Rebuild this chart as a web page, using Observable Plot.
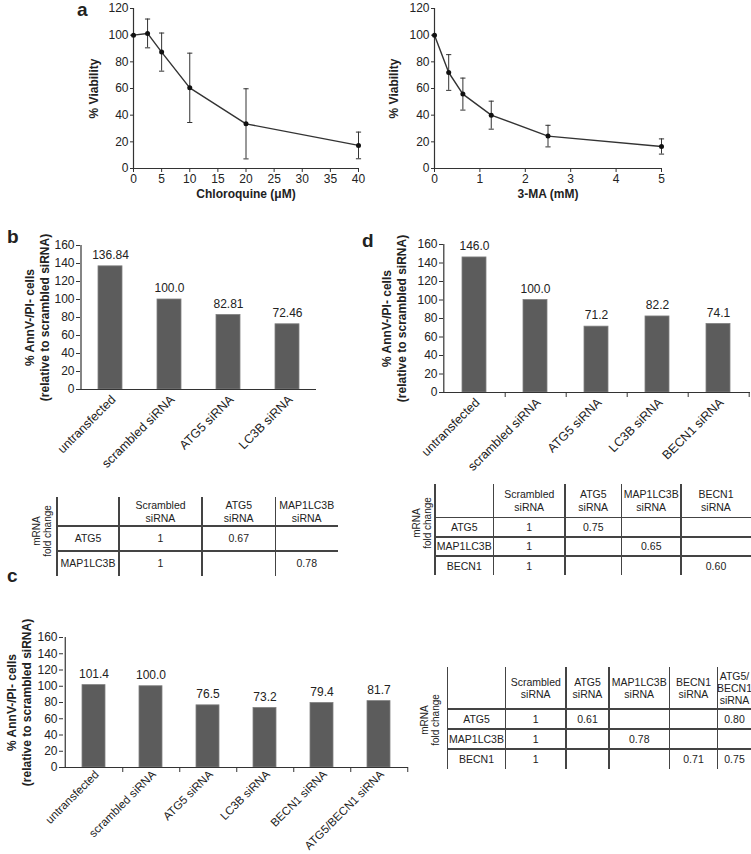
<!DOCTYPE html>
<html><head><meta charset="utf-8">
<script src="https://cdn.jsdelivr.net/npm/d3@7"></script>
<script src="https://cdn.jsdelivr.net/npm/@observablehq/plot@0.6"></script>
<style>
html,body{margin:0;padding:0;background:#fff;}
#fig{position:relative;width:751px;height:854px;overflow:hidden;font-family:"Liberation Sans",Arial,Helvetica,sans-serif;color:#222;}
.panel{position:absolute;}
.panel svg{overflow:visible;}
.letter{position:absolute;font-weight:bold;font-size:19px;line-height:1;}
.cell{position:absolute;display:flex;align-items:center;justify-content:center;text-align:center;white-space:pre;line-height:1.15;}
.vline{position:absolute;width:1.5px;background:#444;}
.hline{position:absolute;height:1.5px;background:#444;}
.rlab{position:absolute;white-space:pre;text-align:center;font-size:10px;line-height:11px;transform:translate(-50%,-50%) rotate(-90deg);}
</style>
</head><body>
<div id="fig"></div>
<script>
// ---- data: panel a ----
const cqDose = [0, 2.5, 5, 10, 20, 40];
const cqViability = [100, 101.3, 87.3, 60.5, 33.5, 17.3];
const cqSD = [0, 10.8, 14.3, 26, 26.3, 10];
const cqTicks = [0, 5, 10, 15, 20, 25, 30, 35, 40];

const maDose = [0, 0.3125, 0.625, 1.25, 2.5, 5];
const maViability = [100, 72, 55.8, 40, 24.3, 16.5];
const maSD = [0, 13.4, 12, 10.5, 8.1, 5.7];
const maTicks = [0, 1, 2, 3, 4, 5];

// ---- data: panel b ----
const bCategories = ["untransfected", "scrambled siRNA", "ATG5 siRNA", "LC3B siRNA"];
const bValues = [136.84, 100.0, 82.81, 72.46];
const bLabels = ["136.84", "100.0", "82.81", "72.46"];

// ---- data: panel d ----
const dCategories = ["untransfected", "scrambled siRNA", "ATG5 siRNA", "LC3B siRNA", "BECN1 siRNA"];
const dValues = [146.0, 100.0, 71.2, 82.2, 74.1];
const dLabels = ["146.0", "100.0", "71.2", "82.2", "74.1"];

// ---- data: panel c ----
const cCategories = ["untransfected", "scrambled siRNA", "ATG5 siRNA", "LC3B siRNA", "BECN1 siRNA", "ATG5/BECN1 siRNA"];
const cValues = [101.4, 100.0, 76.5, 73.2, 79.4, 81.7];
const cLabels = ["101.4", "100.0", "76.5", "73.2", "79.4", "81.7"];

// ---- tables ----
const tbHeaders = ["Scrambled\nsiRNA", "ATG5\nsiRNA", "MAP1LC3B\nsiRNA"];
const tbRows = ["ATG5", "MAP1LC3B"];
const tbValues = [["1", "0.67", ""], ["1", "", "0.78"]];

const tdHeaders = ["Scrambled\nsiRNA", "ATG5\nsiRNA", "MAP1LC3B\nsiRNA", "BECN1\nsiRNA"];
const tdRows = ["ATG5", "MAP1LC3B", "BECN1"];
const tdValues = [["1", "0.75", "", ""], ["1", "", "0.65", ""], ["1", "", "", "0.60"]];

const tcHeaders = ["Scrambled\nsiRNA", "ATG5\nsiRNA", "MAP1LC3B\nsiRNA", "BECN1\nsiRNA", "ATG5/\nBECN1\nsiRNA"];
const tcRows = ["ATG5", "MAP1LC3B", "BECN1"];
const tcValues = [["1", "0.61", "", "", "0.80"], ["1", "", "0.78", "", ""], ["1", "", "", "0.71", "0.75"]];

const yLabelA = "% Viability";
const yLabelBar = "% AnnV-/PI- cells\n(relative to scrambled siRNA)";
const mrnaLabel = "mRNA\nfold change";

// ---- helpers ----
const fig = d3.select("#fig");
const FONT = '"Liberation Sans", Arial, Helvetica, sans-serif';
const INK = "#333";
const baseStyle = {background: "transparent", fontFamily: FONT, fontSize: "12px", color: "#222", overflow: "visible"};

function place(node, left, top) {
  const div = fig.append("div").attr("class", "panel").style("left", left + "px").style("top", top + "px");
  div.node().appendChild(node);
}

const capSymbol = {draw(ctx, size) { const r = Math.sqrt(size / Math.PI); ctx.moveTo(-r, 0); ctx.lineTo(r, 0); }};

function doseChart({dose, viab, sd, ticks, xLabel, width, height, ml, mr, mt, mb, ylDx}) {
  const data = dose.map((d, i) => ({x: d, y: viab[i], lo: viab[i] - sd[i], hi: viab[i] + sd[i], sd: sd[i]}));
  const err = data.filter(d => d.sd > 0);
  return Plot.plot({
    width, height, marginLeft: ml, marginRight: mr, marginTop: mt, marginBottom: mb,
    style: baseStyle,
    x: {domain: [ticks[0], ticks[ticks.length - 1]]},
    y: {domain: [0, 120]},
    marks: [
      Plot.axisX({ticks, tickFormat: d => String(d), tickSize: 4, tickPadding: 2, label: null, stroke: INK}),
      Plot.axisY({ticks: d3.range(0, 121, 20), tickSize: 3, tickPadding: 2, label: null, stroke: INK}),
      Plot.ruleX([ticks[0]], {stroke: INK, strokeWidth: 1.2}),
      Plot.ruleY([0], {stroke: INK, strokeWidth: 1.2}),
      Plot.text([xLabel], {frameAnchor: "bottom", textAnchor: "middle", dy: 29, fontWeight: "bold", fontSize: 12}),
      Plot.text([yLabelA], {frameAnchor: "left", textAnchor: "middle", rotate: -90, dx: ylDx, fontWeight: "bold", fontSize: 12}),
      Plot.ruleX(err, {x: "x", y1: "lo", y2: "hi", stroke: INK, strokeWidth: 1}),
      Plot.dot(err, {x: "x", y: "lo", symbol: capSymbol, r: 2.6, stroke: INK, strokeWidth: 1}),
      Plot.dot(err, {x: "x", y: "hi", symbol: capSymbol, r: 2.6, stroke: INK, strokeWidth: 1}),
      Plot.line(data, {x: "x", y: "y", stroke: INK, strokeWidth: 1.4}),
      Plot.dot(data, {x: "x", y: "y", r: 2.5, fill: "#111"})
    ]
  });
}

function barChart({cats, vals, labels, width, height, ml, mr, mt, mb, boundaryTicks, ylDx, catFont = 12.5, catPad = 8}) {
  const data = cats.map((c, i) => ({c, v: vals[i], t: labels[i]}));
  const innerH = height - mt - mb;
  const step = (width - ml - mr) / cats.length;
  const tickUnits = 5 * 160 / innerH;
  return Plot.plot({
    width, height, marginLeft: ml, marginRight: mr, marginTop: mt, marginBottom: mb,
    style: baseStyle,
    x: {domain: cats, paddingInner: 0.6, paddingOuter: 0.3},
    y: {domain: [0, 160]},
    marks: [
      Plot.barY(data, {x: "c", y: "v", fill: "#5c5c5c", stroke: "#808080", strokeWidth: 0.8}),
      Plot.text(data, {x: "c", y: "v", text: "t", dy: -11, fontSize: 12}),
      Plot.ruleY([0], {stroke: INK, strokeWidth: 1.2}),
      Plot.ruleX([cats[0]], {x: d => d, y1: 0, y2: 160, dx: -step / 2, stroke: INK, strokeWidth: 1.2}),
      Plot.axisY({ticks: d3.range(0, 161, 20), tickSize: 4, tickPadding: 2, label: null, stroke: INK}),
      Plot.axisX({tickRotate: -45, tickSize: 0, tickPadding: catPad, dx: 3, label: null, fontSize: catFont}),
      boundaryTicks ? Plot.ruleX(cats, {x: d => d, y1: 0, y2: -tickUnits, dx: step / 2, stroke: INK, strokeWidth: 1}) : null,
      Plot.text([yLabelBar], {frameAnchor: "left", textAnchor: "middle", rotate: -90, dx: ylDx, fontWeight: "bold", fontSize: 12, lineHeight: 1.3})
    ]
  });
}

function table({left, top, colW, headH, rowH, fontSize}, headers, rows, values) {
  const xs = [left];
  colW.forEach(w => xs.push(xs[xs.length - 1] + w));
  const nRows = rows.length;
  const bottom = top + headH + nRows * rowH;
  const cell = (x, y, w, h, txt) => fig.append("div").attr("class", "cell")
    .style("left", x + "px").style("top", y + "px").style("width", w + "px").style("height", h + "px")
    .style("font-size", fontSize + "px").text(txt);
  headers.forEach((h, j) => cell(xs[j + 1], top, colW[j + 1], headH, h));
  rows.forEach((r, i) => {
    const y = top + headH + i * rowH;
    cell(xs[0], y, colW[0], rowH, r);
    values[i].forEach((v, j) => cell(xs[j + 1], y, colW[j + 1], rowH, v));
  });
  for (let j = 0; j < colW.length; j++) {
    fig.append("div").attr("class", "vline").style("left", (xs[j] - 0.75) + "px").style("top", top + "px").style("height", (bottom - top) + "px");
  }
  for (let i = 0; i < nRows; i++) {
    fig.append("div").attr("class", "hline").style("left", xs[0] + "px").style("top", (top + headH + i * rowH - 0.75) + "px").style("width", (xs[xs.length - 1] - xs[0]) + "px");
  }
}

function rlabel(cx, cy, txt) {
  fig.append("div").attr("class", "rlab").style("left", cx + "px").style("top", cy + "px").text(txt);
}
function letter(x, y, t) {
  fig.append("div").attr("class", "letter").style("left", x + "px").style("top", y + "px").text(t);
}

// ---- panel a ----
place(doseChart({dose: cqDose, viab: cqViability, sd: cqSD, ticks: cqTicks, xLabel: "Chloroquine (\u03bcM)",
  width: 375, height: 210, ml: 133, mr: 17, mt: 8, mb: 42, ylDx: -39}), 0, 0);
place(doseChart({dose: maDose, viab: maViability, sd: maSD, ticks: maTicks, xLabel: "3-MA (mM)",
  width: 376, height: 210, ml: 59, mr: 90, mt: 8, mb: 42, ylDx: -40}), 375, 0);

// ---- panel b ----
place(barChart({cats: bCategories, vals: bValues, labels: bLabels, width: 340, height: 235,
  ml: 80, mr: 24, mt: 20, mb: 71, boundaryTicks: false, ylDx: -44}), 0, 225);
// ---- panel d ----
place(barChart({cats: dCategories, vals: dValues, labels: dLabels, width: 391, height: 235,
  ml: 83, mr: 1, mt: 19, mb: 68, boundaryTicks: true, ylDx: -50}), 360, 225);
// ---- panel c ----
place(barChart({cats: cCategories, vals: cValues, labels: cLabels, width: 420, height: 234,
  ml: 63, mr: 12, mt: 17, mb: 87, boundaryTicks: true, ylDx: -45, catFont: 11.5, catPad: 5}), 0, 620);

// ---- tables ----
table({left: 57, top: 497, colW: [62, 83, 73.5, 62.5], headH: 29, rowH: 25, fontSize: 10.5}, tbHeaders, tbRows, tbValues);
rlabel(41.5, 531, mrnaLabel);
table({left: 435, top: 483.5, colW: [58.5, 71.5, 56.5, 59.5, 70], headH: 34, rowH: 19.3, fontSize: 10.5}, tdHeaders, tdRows, tdValues);
rlabel(421.5, 523, mrnaLabel);
table({left: 447.5, top: 666.5, colW: [58, 60.5, 43, 60.5, 48, 34], headH: 42.7, rowH: 20, fontSize: 10.5}, tcHeaders, tcRows, tcValues);
rlabel(430, 720, mrnaLabel);

// ---- panel letters ----
letter(77, 0, "a");
letter(7, 227, "b");
letter(362, 231, "d");
letter(7, 566, "c");
</script>
</body></html>
